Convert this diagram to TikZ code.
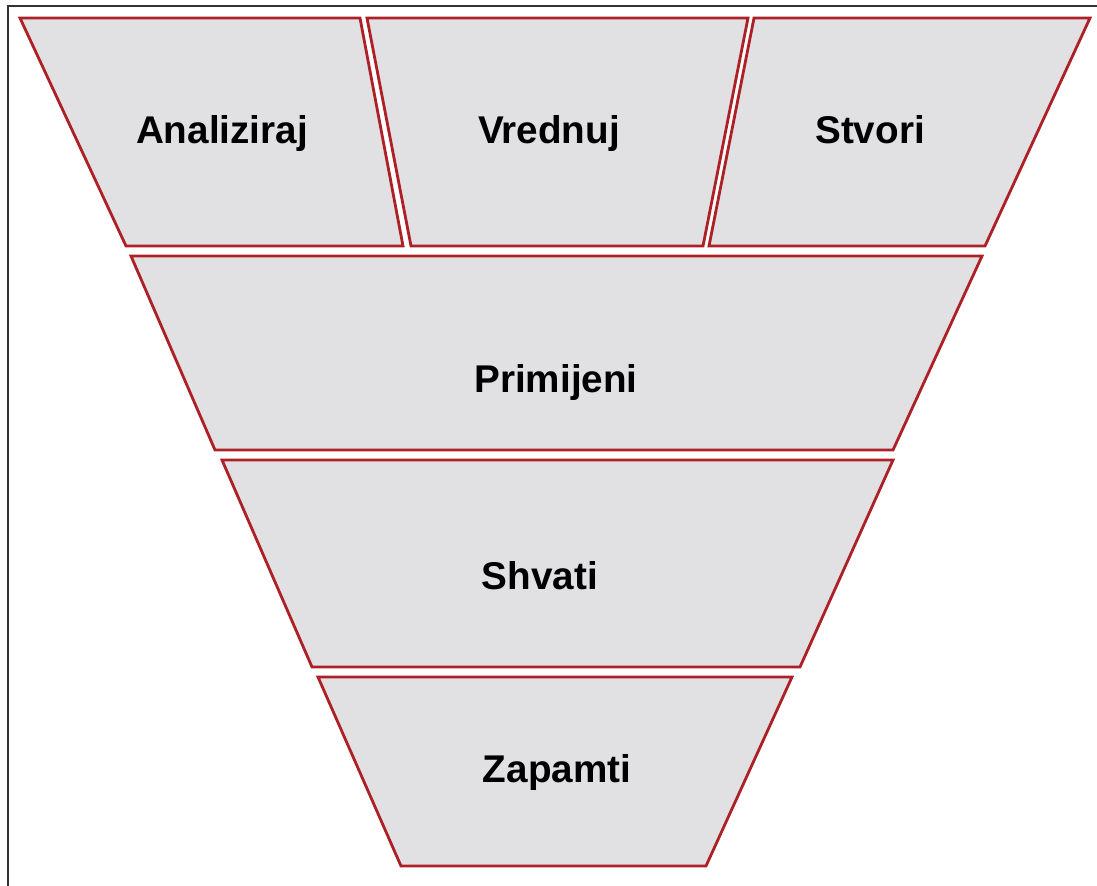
\documentclass[tikz,border=0pt]{standalone}
\usepackage{fontspec}
\setmainfont{Liberation Sans}
\usetikzlibrary{positioning}
\definecolor{levelred}{RGB}{172,32,38}
\definecolor{levelgray}{RGB}{225,225,228}

\begin{document}
\begin{tikzpicture}[
  x=0.2mm, y=-0.2mm,
  level/.style={draw=levelred, fill=levelgray, line width=1.6pt, line join=miter},
  lbl/.style={font=\fontsize{22}{26}\selectfont\bfseries, inner sep=0pt, anchor=base}
]
  \useasboundingbox (0,0) rectangle (1097,886);
  \draw[line width=1.2pt, black!80] (8,886) -- (8,6) -- (1097,6);

  % top row
  \draw[level] (20,18) -- (360,18) -- (403,246) -- (126,246) -- cycle;
  \draw[level] (367,18) -- (748,18) -- (703,246) -- (411,246) -- cycle;
  \draw[level] (754,18) -- (1090,18) -- (985,246) -- (709,246) -- cycle;
  % lower levels
  \draw[level] (131,256) -- (982,256) -- (893,450) -- (215,450) -- cycle;
  \draw[level] (222,460) -- (893,460) -- (800,667) -- (312,667) -- cycle;
  \draw[level] (318,677) -- (792,677) -- (706,866) -- (401,866) -- cycle;

  \node[lbl] (analiziraj) at (222,143) {Analiziraj};
  \node[lbl] (vrednuj) at (549,143) {Vrednuj};
  \node[lbl] (stvori) at (870,143) {Stvori};
  \node[lbl] (primijeni) at (556,392) {Primijeni};
  \node[lbl] (shvati) at (540,589) {Shvati};
  \node[lbl] (zapamti) at (557,782) {Zapamti};
\end{tikzpicture}
\end{document}
